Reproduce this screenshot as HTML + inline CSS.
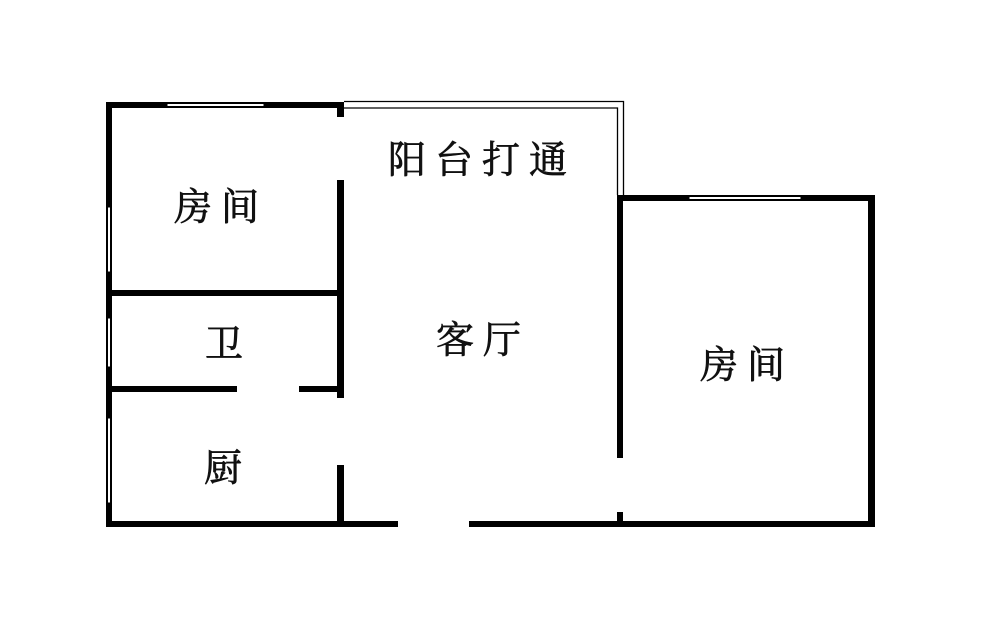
<!DOCTYPE html>
<html><head><meta charset="utf-8"><style>
html,body{margin:0;padding:0;background:#fff;}
svg{display:block}
text{font-family:"Liberation Serif","Noto Serif CJK SC",serif;fill:#111;stroke:#111;stroke-width:0.7;}
</style></head><body>
<svg width="1000" height="629" viewBox="0 0 1000 629" xmlns="http://www.w3.org/2000/svg">
<g fill="#000">
<rect x="106" y="102" width="6" height="425"/>
<rect x="106" y="102" width="238" height="6"/>
<rect x="337" y="102" width="7" height="15"/>
<rect x="337" y="180" width="7" height="218"/>
<rect x="337" y="465" width="7" height="62"/>
<rect x="106" y="290" width="238" height="6"/>
<rect x="106" y="386" width="131" height="6"/>
<rect x="299" y="386" width="45" height="6"/>
<rect x="106" y="521" width="292" height="6"/>
<rect x="469" y="521" width="406" height="6"/>
<rect x="617" y="195" width="258" height="6"/>
<rect x="868" y="195" width="7" height="332"/>
<rect x="617" y="195" width="6" height="263"/>
<rect x="617" y="512" width="6" height="15"/>
</g>
<g fill="#fff" stroke="#000" stroke-width="1">
<rect x="167" y="103.5" width="97" height="3"/>
<rect x="689" y="196.5" width="112" height="3"/>
<rect x="107.5" y="207" width="3" height="65"/>
<rect x="107.5" y="318" width="3" height="49"/>
<rect x="107.5" y="418" width="3" height="85"/>
</g>
<g fill="none" stroke="#000" stroke-width="1.3">
<polyline points="344,101.5 623.5,101.5 623.5,195"/>
<polyline points="344,108 617.5,108 617.5,195"/>
</g>
<g font-size="38">
<text x="388" y="173" letter-spacing="9">阳台打通</text>
<text x="174" y="220" letter-spacing="9">房间</text>
<text x="205" y="357">卫</text>
<text x="436" y="353" letter-spacing="9">客厅</text>
<text x="204" y="481">厨</text>
<text x="700" y="378" letter-spacing="9">房间</text>
</g>
</svg>
</body></html>
